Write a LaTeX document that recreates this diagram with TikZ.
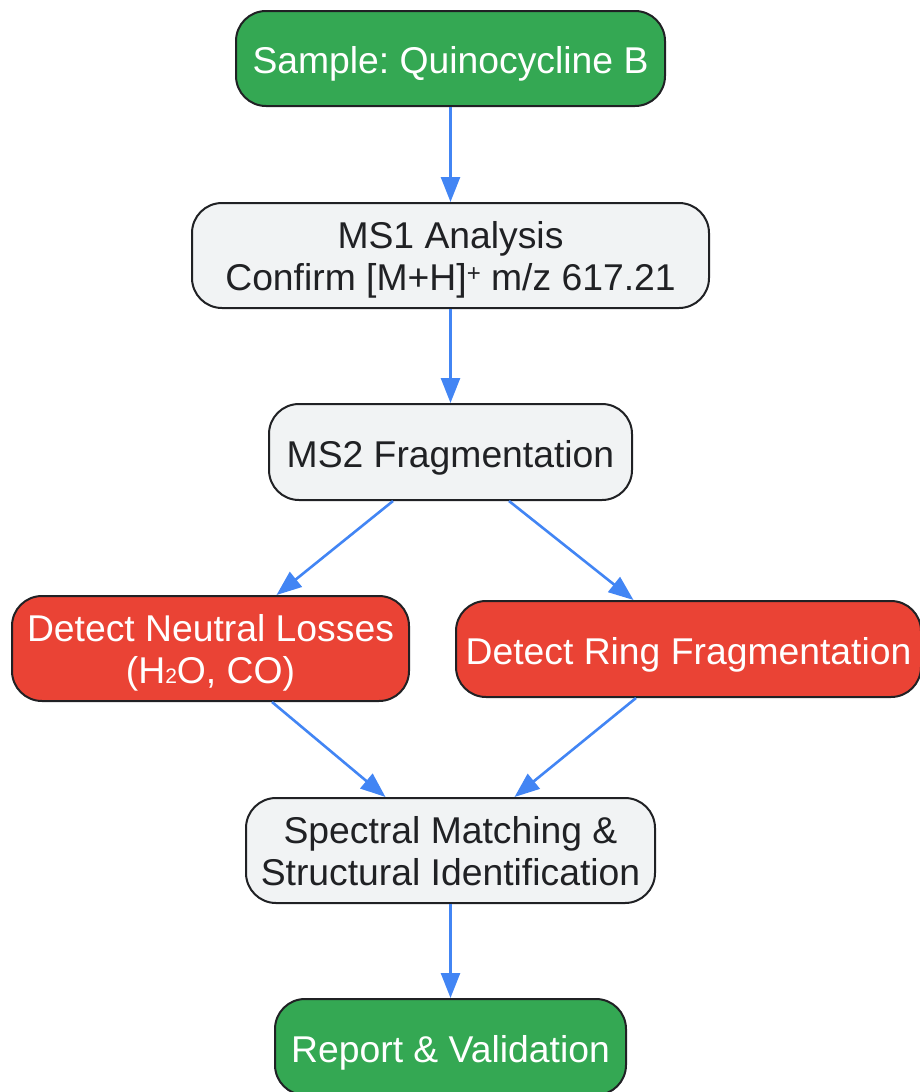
\documentclass[tikz,border=0pt]{standalone}
\usepackage{fontspec}
\setmainfont{Liberation Sans}
\usetikzlibrary{arrows.meta,calc}
\frenchspacing
\definecolor{gfill}{HTML}{34A853}
\definecolor{rfill}{HTML}{EA4335}
\definecolor{nfill}{HTML}{F1F3F4}
\definecolor{edgeblue}{HTML}{4285F4}
\definecolor{border}{HTML}{202124}
\definecolor{ink}{HTML}{202124}
\tikzset{
  box/.style={draw=border, line width=2pt, rounded corners=30pt, inner sep=0pt,
    font=\fontsize{37.3}{42}\selectfont},
  greenbox/.style={box, fill=gfill, text=white},
  redbox/.style={box, fill=rfill, text=white},
  greybox/.style={box, fill=nfill, text=ink},
  flow/.style={draw=edgeblue, line width=2.6pt, -{Triangle[length=25pt,width=19pt]}}
}
\newcommand{\oneline}[1]{\raisebox{-15pt}[0pt][0pt]{\begin{tabular}[b]{@{}c@{}}#1\end{tabular}}}
\newcommand{\twoline}[1]{\raisebox{-35pt}[0pt][0pt]{\begin{tabular}[b]{@{}c@{}}#1\end{tabular}}}
\newcommand{\subtwo}{{\fontsize{21}{21}\selectfont 2}}
\newcommand{\supplus}{\raisebox{9pt}{\fontsize{24}{24}\selectfont +}}
\begin{document}
\begin{tikzpicture}[x=1pt,y=-1pt]
\useasboundingbox (0,0) rectangle (920,1092);
\node[greenbox, minimum width=429pt, minimum height=95pt] (sample) at (450.5,58.5) {\oneline{Sample: Quinocycline B}};
\node[greybox, minimum width=517pt, minimum height=105pt] (ms1) at (450.5,255.5) {\twoline{MS1 Analysis\\Confirm [M+H]\supplus{} m/z 617.21}};
\node[greybox, minimum width=363pt, minimum height=96pt] (ms2) at (450.5,452) {\oneline{MS2 Fragmentation}};
\node[redbox, minimum width=397pt, minimum height=105pt] (neutral) at (210.5,648.5) {\twoline{Detect Neutral Losses\\(H\subtwo O, CO)}};
\node[redbox, minimum width=465pt, minimum height=96pt] (ring) at (688.5,649) {\oneline{Detect Ring Fragmentation}};
\node[greybox, minimum width=409pt, minimum height=105pt] (spec) at (450.5,850.5) {\twoline{Spectral Matching \&\\Structural Identification}};
\node[greenbox, minimum width=351pt, minimum height=96pt] (report) at (450.5,1047) {\oneline{Report \& Validation}};

\draw[flow] (sample.south) -- (ms1.north);
\draw[flow] (ms1.south) -- (ms2.north);
\draw[flow] ($(ms2.south)+(-57.5,0)$) -- ($(neutral.north)+(66,0)$);
\draw[flow] ($(ms2.south)+(58.5,0)$) -- ($(ring.north)+(-55,0)$);
\draw[flow] ($(neutral.south)+(61.5,0)$) -- ($(spec.north)+(-65,0)$);
\draw[flow] ($(ring.south)+(-52.5,0)$) -- ($(spec.north)+(64,0)$);
\draw[flow] (spec.south) -- (report.north);
\end{tikzpicture}
\end{document}
